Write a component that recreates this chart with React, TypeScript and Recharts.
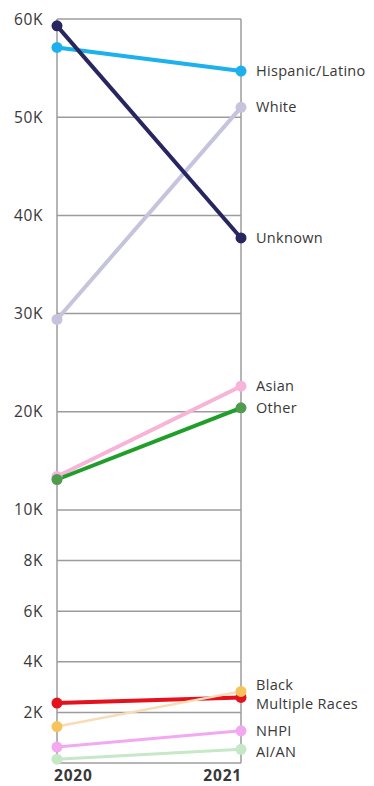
import React from 'react';
import { LineChart, Line, XAxis, YAxis, CartesianGrid } from 'recharts';

// Enrollment by race / ethnicity, 2020 vs 2021
const years = [2020, 2021];
const unknown = [59300, 37700];
const hispanicLatino = [57100, 54700];
const white = [29400, 51000];
const asian = [13400, 22600];
const other = [13100, 20400];
const black = [1440, 2830];
const multipleRaces = [2370, 2590];
const nhpi = [630, 1270];
const aian = [150, 540];

const yTickValues = [2000, 4000, 6000, 8000, 10000, 20000, 30000, 40000, 50000, 60000];

// Broken axis: 0–10K takes the lower band, 10K–60K is compressed above it
const BREAK = 10000;
const UPPER_WEIGHT = 1.94;
const toScale = (v: number) =>
  v <= BREAK ? v / BREAK : 1 + ((v - BREAK) / 50000) * UPPER_WEIGHT;

const FONT = '"Open Sans", sans-serif';
const TEXT = '#383838';

type Series = {
  key: string;
  name: string;
  values: number[];
  line: string;
  dot: string;
  width: number;
  labelDy: number;
};

const series: Series[] = [
  { key: 'aian', name: 'AI/AN', values: aian, line: '#c6e8c6', dot: '#c6e8c6', width: 3, labelDy: 3 },
  { key: 'nhpi', name: 'NHPI', values: nhpi, line: '#f3a9ef', dot: '#f3a9ef', width: 3, labelDy: 0 },
  { key: 'multipleRaces', name: 'Multiple Races', values: multipleRaces, line: '#e3121d', dot: '#e3121d', width: 4, labelDy: 7 },
  { key: 'black', name: 'Black', values: black, line: '#f9dcb6', dot: '#f7c35c', width: 2.5, labelDy: -6.5 },
  { key: 'asian', name: 'Asian', values: asian, line: '#f7b3d8', dot: '#f7b3d8', width: 4, labelDy: 0 },
  { key: 'other', name: 'Other', values: other, line: '#1f9f2a', dot: '#4f9c4f', width: 4, labelDy: 0 },
  { key: 'white', name: 'White', values: white, line: '#c6c4dc', dot: '#c6c4dc', width: 4, labelDy: 0 },
  { key: 'hispanicLatino', name: 'Hispanic/Latino', values: hispanicLatino, line: '#1cb0ec', dot: '#1cb0ec', width: 4, labelDy: 0 },
  { key: 'unknown', name: 'Unknown', values: unknown, line: '#28265e', dot: '#28265e', width: 4, labelDy: 0 },
];

const rows = years.map((year, i) => {
  const row: Record<string, number> = { year };
  series.forEach((s) => {
    row[s.key] = s.values[i];
  });
  return row;
});

const tickLabel = (t: number) => {
  const v = yTickValues.find((val) => Math.abs(toScale(val) - t) < 1e-6);
  return v === undefined ? '' : `${v / 1000}K`;
};

const YTick = (props: any) => {
  const { x, y, payload } = props;
  return (
    <text
      x={x - 14}
      y={y + 5.5}
      textAnchor="end"
      fontFamily={FONT}
      fontSize={15.5}
      letterSpacing={0.6}
      fill={TEXT}
    >
      {tickLabel(payload.value)}
    </text>
  );
};

const XTick = (props: any) => {
  const { x, y, payload, index } = props;
  return (
    <text
      x={index === 0 ? x - 3 : x + 1}
      y={y + 18}
      textAnchor={index === 0 ? 'start' : 'end'}
      fontFamily={FONT}
      fontSize={15.5}
      fontWeight={700}
      letterSpacing={0.8}
      fill={TEXT}
    >
      {payload.value}
    </text>
  );
};

const endLabel = (s: Series) => (props: any) => {
  const { x, y, index } = props;
  if (index !== years.length - 1) return <g />;
  return (
    <text
      x={x + 15}
      y={y + s.labelDy + 5}
      fontFamily={FONT}
      fontSize={14.5}
      letterSpacing={0.3}
      fill={TEXT}
    >
      {s.name}
    </text>
  );
};

export default function App() {
  return (
    <div style={{ position: 'absolute', left: 0, top: 0, background: '#fff' }}>
      <LineChart
        width={374}
        height={786}
        data={rows}
        margin={{ top: 19, right: 133, bottom: 0, left: 12 }}
      >
        <CartesianGrid stroke="#9c9c9c" strokeWidth={1.5} />
        <XAxis
          type="number"
          dataKey="year"
          domain={[2020, 2021]}
          ticks={years}
          axisLine={false}
          tickLine={false}
          tickSize={0}
          tickMargin={0}
          height={23}
          tick={<XTick />}
          interval={0}
        />
        <YAxis
          type="number"
          domain={[0, toScale(60000)]}
          ticks={yTickValues.map(toScale)}
          axisLine={false}
          tickLine={false}
          tickSize={0}
          tickMargin={0}
          width={45}
          tick={<YTick />}
          interval={0}
        />
        {series.map((s) => (
          <Line
            key={s.key}
            dataKey={(row: any) => toScale(row[s.key])}
            stroke={s.line}
            strokeWidth={s.width}
            dot={{ r: 5.5, fill: s.dot, stroke: s.dot, strokeWidth: 0 }}
            activeDot={false}
            isAnimationActive={false}
            label={endLabel(s)}
          />
        ))}
      </LineChart>
    </div>
  );
}
